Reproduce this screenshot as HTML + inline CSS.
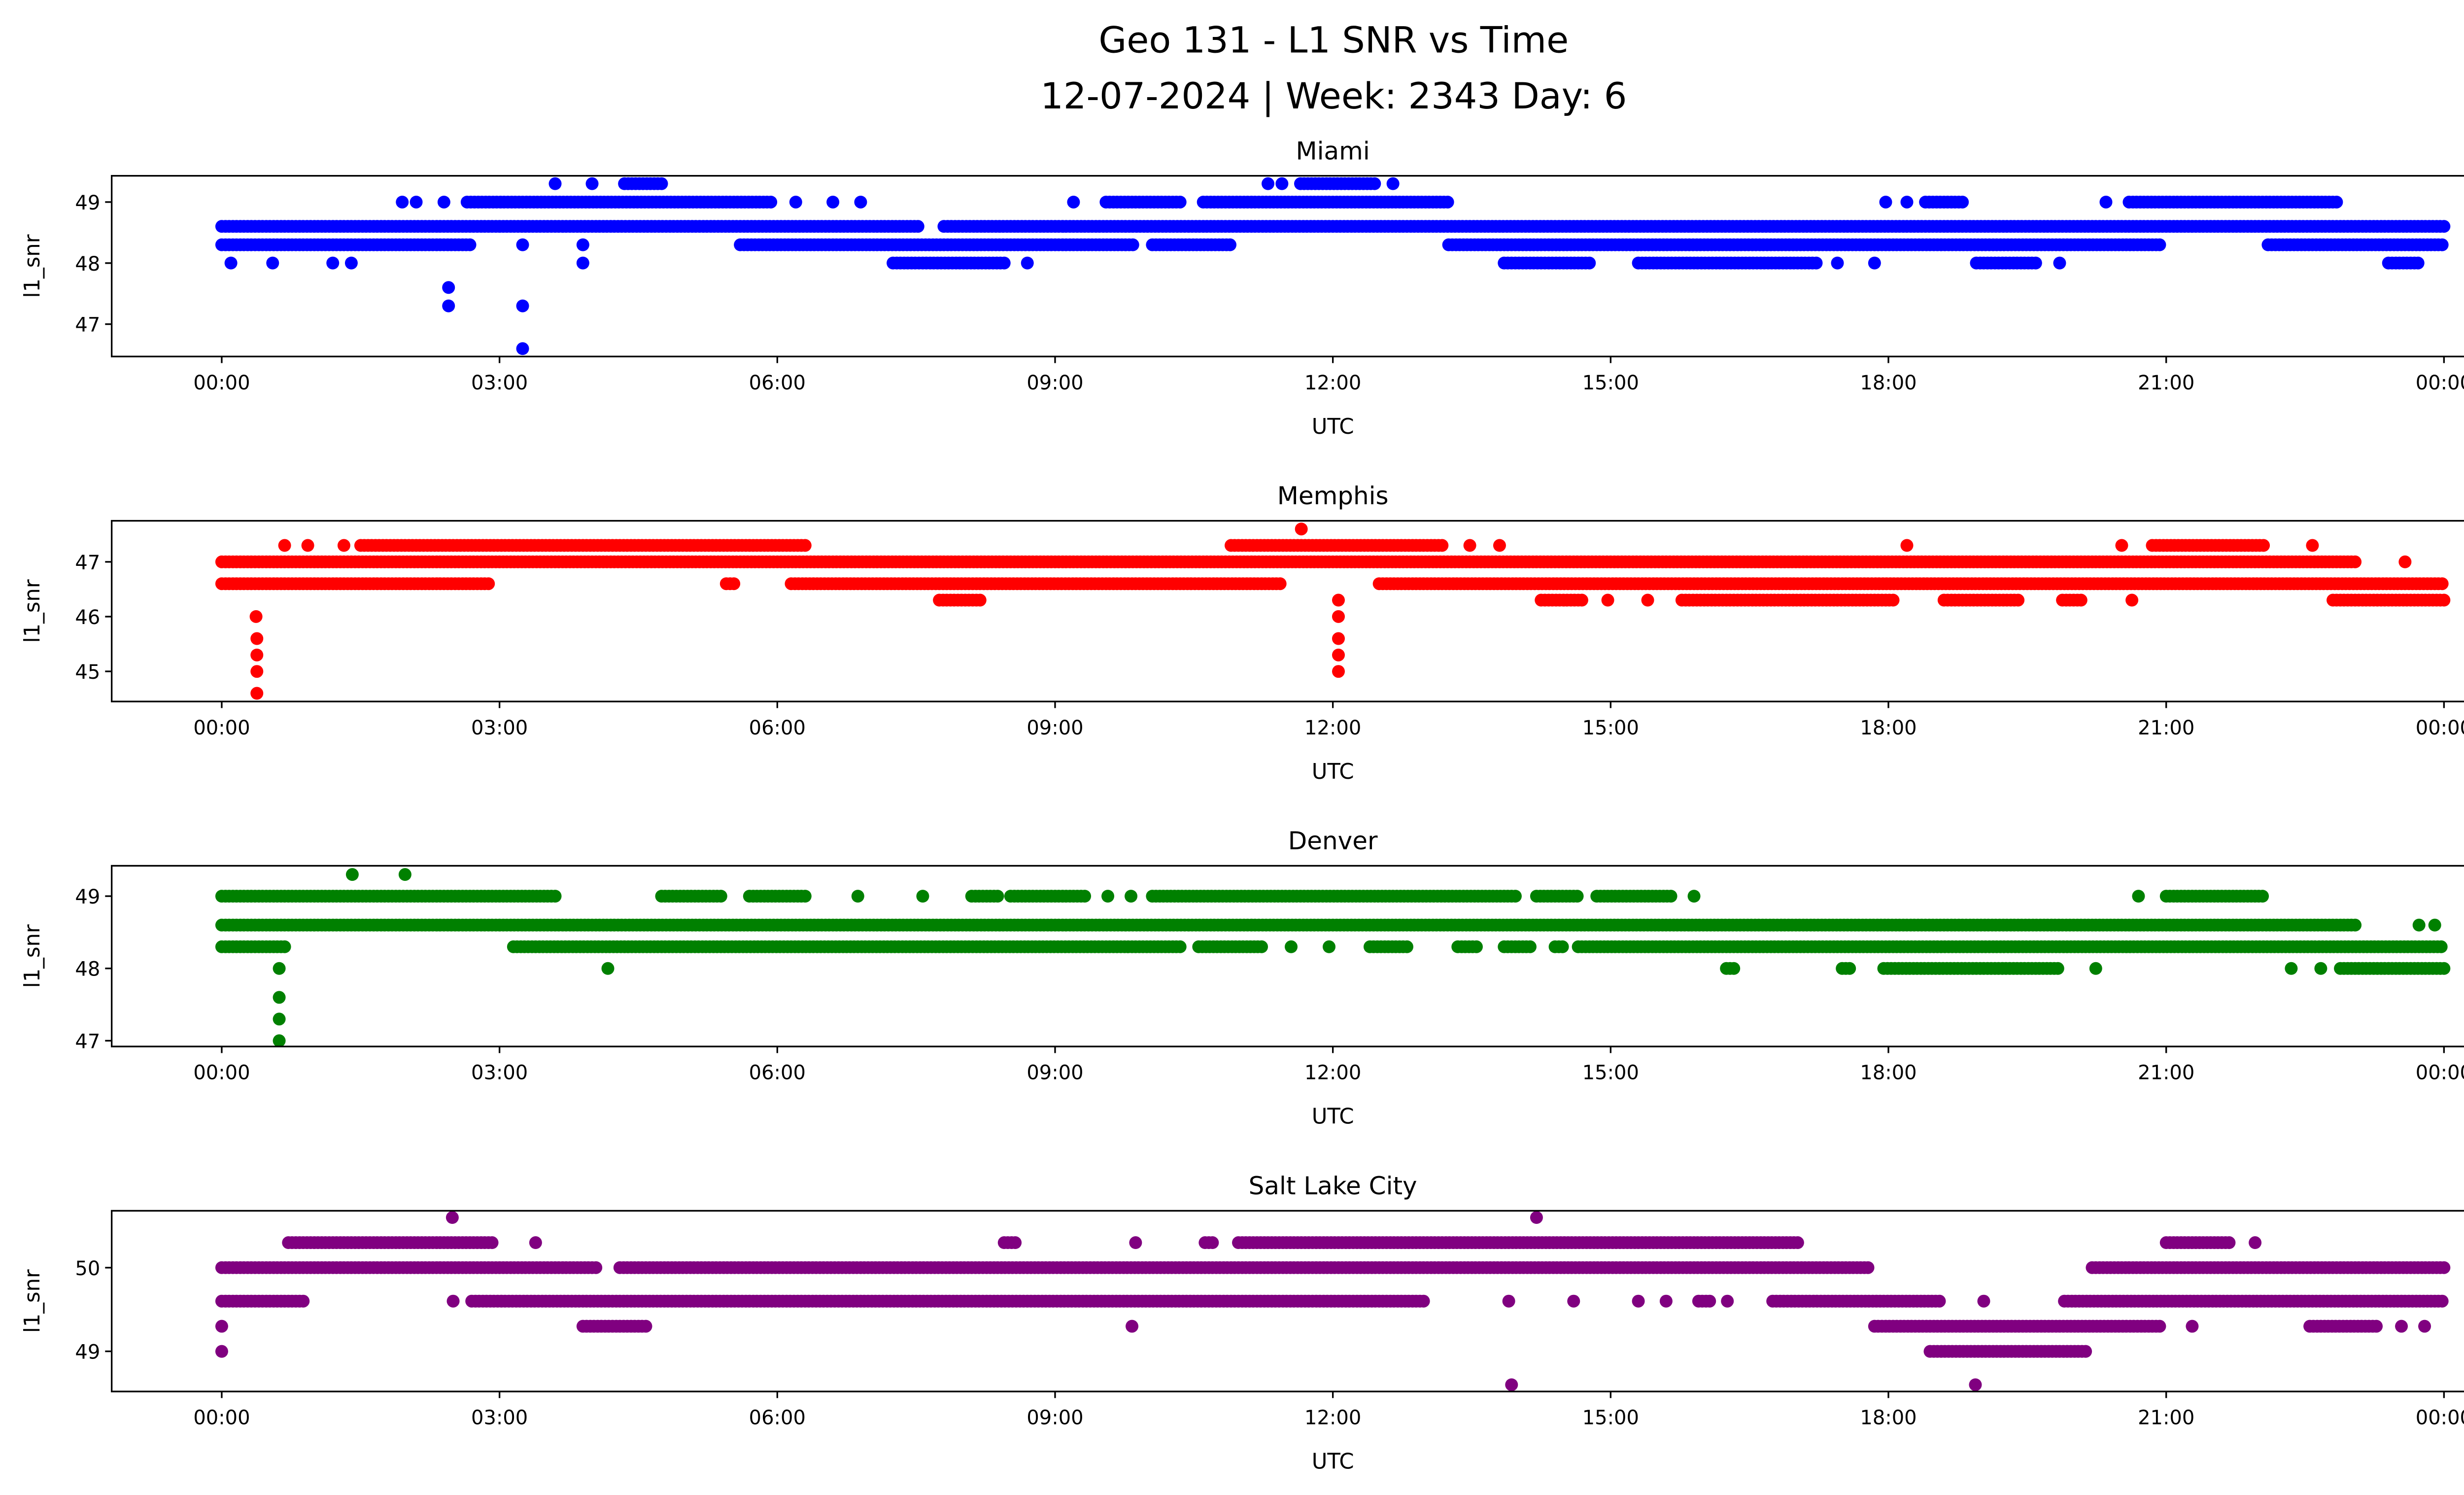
<!DOCTYPE html>
<html><head><meta charset="utf-8"><style>
html,body{margin:0;padding:0;background:#fff}
svg{display:block}
text{font-family:"DejaVu Sans","Liberation Sans",sans-serif;fill:#000}
</style></head><body>
<svg id="fig" xmlns="http://www.w3.org/2000/svg" width="5226" height="3033" viewBox="0 0 1568 910">
<rect width="1568" height="910" fill="#fff"/>
<text x="812" y="32" font-size="22" text-anchor="middle">Geo 131 - L1 SNR vs Time</text>
<text x="812" y="66" font-size="22" text-anchor="middle">12-07-2024 | Week: 2343 Day: 6</text>
<g id="panels"></g>
</svg>
<script>
// Data: runs [startHour, endHour, snrValue]; single points have start==end
const xTickLabels = ["00:00","03:00","06:00","09:00","12:00","15:00","18:00","21:00","00:00"];
const stationNames = ["Miami","Memphis","Denver","Salt Lake City"];
const stationColors = ["#0000ff","#ff0000","#008000","#800080"];
const miamiTicks = [47,48,49];
const memphisTicks = [45,46,47];
const denverTicks = [47,48,49];
const slcTicks = [49,50];
const miamiRuns = [
 [0,7.55,48.6],[7.8,24,48.6],
 [0,2.7,48.3],[3.25,3.25,48.3],[3.9,3.9,48.3],[5.6,9.85,48.3],[10.05,10.9,48.3],[13.25,20.95,48.3],[22.1,24,48.3],
 [0.1,0.1,48],[0.55,0.55,48],[1.2,1.2,48],[1.4,1.4,48],[3.9,3.9,48],[7.25,8.45,48],[8.7,8.7,48],[13.85,14.8,48],[15.3,17.25,48],[17.45,17.45,48],[17.85,17.85,48],[18.95,19.6,48],[19.85,19.85,48],[23.4,23.75,48],
 [1.95,1.95,49],[2.1,2.1,49],[2.4,2.4,49],[2.65,5.95,49],[6.2,6.2,49],[6.6,6.6,49],[6.9,6.9,49],[9.2,9.2,49],[9.55,10.35,49],[10.6,13.25,49],[17.97,17.97,49],[18.2,18.2,49],[18.4,18.8,49],[20.35,20.35,49],[20.6,22.85,49],
 [3.6,3.6,49.3],[4.0,4.0,49.3],[4.35,4.75,49.3],[11.3,11.3,49.3],[11.45,11.45,49.3],[11.65,12.45,49.3],[12.65,12.65,49.3],
 [2.45,2.45,47.6],[2.45,2.45,47.3],[3.25,3.25,47.3],[3.25,3.25,46.6]
];
const memphisRuns = [
 [0,23.05,47],[23.58,23.58,47],
 [0,2.9,46.6],[5.45,5.55,46.6],[6.15,11.45,46.6],[12.5,24,46.6],
 [0.68,0.68,47.3],[0.93,0.93,47.3],[1.32,1.32,47.3],[1.5,6.3,47.3],[10.9,13.2,47.3],[13.48,13.48,47.3],[13.8,13.8,47.3],[18.2,18.2,47.3],[20.52,20.52,47.3],[20.85,22.05,47.3],[22.58,22.58,47.3],
 [7.75,8.2,46.3],[14.25,14.72,46.3],[14.97,14.97,46.3],[15.4,15.4,46.3],[15.77,18.05,46.3],[18.6,19.42,46.3],[19.88,20.1,46.3],[20.63,20.63,46.3],[22.8,24,46.3],
 [11.66,11.66,47.6],
 [0.37,0.37,46],[0.38,0.38,45.6],[0.38,0.38,45.3],[0.38,0.38,45],[0.38,0.38,44.6],
 [12.06,12.06,46.3],[12.06,12.06,46],[12.06,12.06,45.6],[12.06,12.06,45.3],[12.06,12.06,45]
];
const denverRuns = [
 [0,23.05,48.6],[23.73,23.73,48.6],[23.9,23.9,48.6],
 [0,0.7,48.3],[3.15,10.35,48.3],[10.55,11.25,48.3],[11.55,11.55,48.3],[11.96,11.96,48.3],[12.4,12.8,48.3],[13.35,13.55,48.3],[13.85,14.15,48.3],[14.4,14.5,48.3],[14.65,24,48.3],
 [0,3.6,49],[4.75,5.4,49],[5.7,6.3,49],[6.87,6.87,49],[7.57,7.57,49],[8.1,8.4,49],[8.52,9.35,49],[9.57,9.57,49],[9.82,9.82,49],[10.05,14.0,49],[14.2,14.65,49],[14.85,15.65,49],[15.9,15.9,49],[20.7,20.7,49],[21.0,22.05,49],
 [4.17,4.17,48],[16.25,16.35,48],[17.5,17.6,48],[17.95,19.85,48],[20.24,20.24,48],[22.35,22.35,48],[22.67,22.67,48],[22.88,24,48],
 [1.41,1.41,49.3],[1.98,1.98,49.3],
 [0.62,0.62,48],[0.62,0.62,47.6],[0.62,0.62,47.3],[0.62,0.62,47]
];
const slcRuns = [
 [0,4.05,50],[4.3,17.8,50],[20.2,24,50],
 [0,0.9,49.6],[2.5,2.5,49.6],[2.7,13.0,49.6],[13.9,13.9,49.6],[14.6,14.6,49.6],[15.3,15.3,49.6],[15.6,15.6,49.6],[15.95,16.1,49.6],[16.26,16.26,49.6],[16.75,18.55,49.6],[19.03,19.03,49.6],[19.9,24,49.6],
 [0.72,2.95,50.3],[3.39,3.39,50.3],[8.45,8.6,50.3],[9.87,9.87,50.3],[10.62,10.7,50.3],[10.98,17.05,50.3],[21.0,21.7,50.3],[21.96,21.96,50.3],
 [0,0,49.3],[3.9,4.6,49.3],[9.83,9.83,49.3],[17.85,20.95,49.3],[21.28,21.28,49.3],[22.55,23.3,49.3],[23.54,23.54,49.3],[23.79,23.79,49.3],
 [0,0,49],[18.45,20.15,49],
 [2.49,2.49,50.6],[14.2,14.2,50.6],[13.93,13.93,48.6],[18.94,18.94,48.6]
];
const allRuns=[miamiRuns,memphisRuns,denverRuns,slcRuns];
const allTicks=[miamiTicks,memphisTicks,denverTicks,slcTicks];
const yLims=[[46.47,49.43],[44.45,47.75],[46.92,49.42],[48.52,50.68]];
const NS="http://www.w3.org/2000/svg";
const AX_L=68, AX_R=1555, AX_H=110, TOPS=[107,317,527,737];
const X0=135, X24=1488;
function xScale(h){return X0+(X24-X0)*h/24;}
function mk(tag,attrs,parent){const e=document.createElementNS(NS,tag);for(const k in attrs)e.setAttribute(k,attrs[k]);parent.appendChild(e);return e;}
const root=document.getElementById('panels');
for(let p=0;p<4;p++){
  const top=TOPS[p], bot=top+AX_H, lim=yLims[p];
  const yScale=v=>bot-(v-lim[0])/(lim[1]-lim[0])*AX_H;
  const g=mk('g',{},root);
  
  
  const t=mk('text',{x:(AX_L+AX_R)/2,y:top-10,'font-size':'15','text-anchor':'middle'},g);
  t.textContent=stationNames[p];
  
  
  const dots=mk('g',{fill:stationColors[p]},g);
  
  
  for(const r of allRuns[p]){
    const y=yScale(r[2]);
    for(let h=r[0];h<=r[1]+1e-9;h+=0.04){
      const c=mk('circle',{cx:xScale(h).toFixed(1),cy:y.toFixed(1),r:3.9},dots);
      
      
    }
  }
  const fr=mk('rect',{x:AX_L,y:top,width:AX_R-AX_L,height:AX_H,fill:'none',stroke:'#000','stroke-width':1},g);
  
  
  xTickLabels.forEach((lab,i)=>{
    const x=xScale(i*3);
    mk('line',{x1:x,x2:x,y1:bot,y2:bot+4,stroke:'#000','stroke-width':1},g);
    const tx=mk('text',{x:x,y:bot+20,'font-size':'12','text-anchor':'middle'},g);
    tx.textContent=lab;
    
    
  });
  allTicks[p].forEach(v=>{
    const y=yScale(v);
    mk('line',{x1:AX_L-4,x2:AX_L,y1:y,y2:y,stroke:'#000','stroke-width':1},g);
    const ty=mk('text',{x:AX_L-7,y:y+4.5,'font-size':'12','text-anchor':'end'},g);
    ty.textContent=String(v);
    
    
  });
  const xl=mk('text',{x:(AX_L+AX_R)/2,y:bot+47,'font-size':'13','text-anchor':'middle'},g);
  xl.textContent='UTC';
  
  
  const yc=(top+bot)/2;
  const yl=mk('text',{x:24,y:yc,'font-size':'13','text-anchor':'middle',transform:'rotate(-90 24 '+yc+')'},g);
  yl.textContent='l1_snr';
  
  
}
</script>
</body></html>
